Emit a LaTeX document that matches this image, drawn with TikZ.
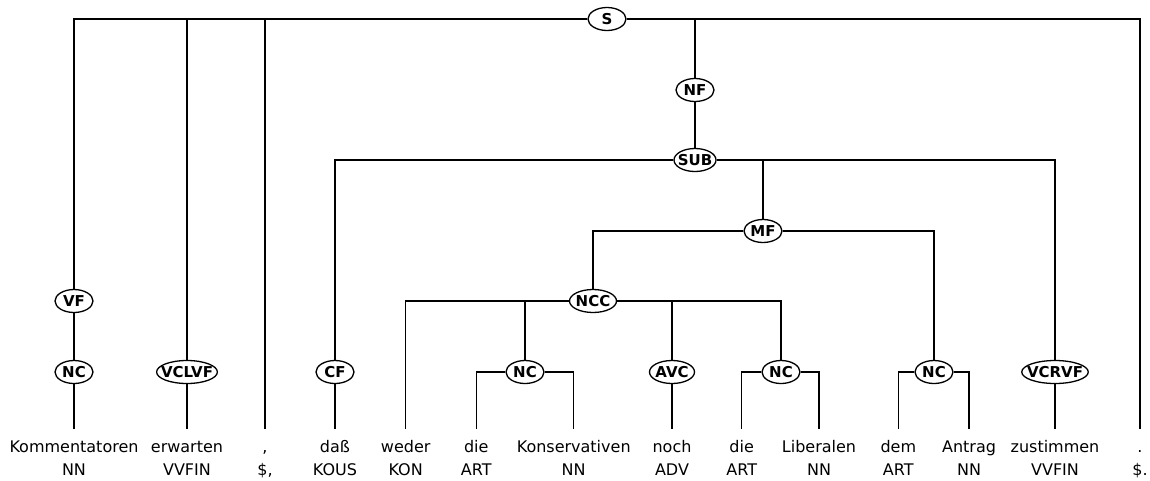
\documentclass[tikz,border=0pt]{standalone}
\usepackage{fontspec}
\setmainfont{DejaVu Sans}
\usetikzlibrary{shapes.geometric}
\begin{document}
\begin{tikzpicture}[x=1pt,y=-1pt, line width=1.3pt,
 cat/.style={ellipse, draw, fill=white, font=\fontsize{15}{15}\selectfont\bfseries, inner xsep=-4.5pt, inner ysep=0pt, minimum width=38pt, minimum height=23pt},
 word/.style={anchor=base, font=\fontsize{16}{16}\selectfont, inner xsep=0pt, inner ysep=10pt, text height=12pt, text depth=3pt},
 tag/.style={anchor=base, font=\fontsize{16}{16}\selectfont, inner sep=0pt}]
\useasboundingbox (0,0) rectangle (1150,480);
% phrase nodes
\node[cat] (S) at (607,19) {S};
\node[cat] (NF) at (695,90) {NF};
\node[cat,minimum width=42pt] (SUB) at (695,160) {SUB};
\node[cat] (MF) at (763,231) {MF};
\node[cat,minimum width=47pt] (NCC) at (593,301) {NCC};
\node[cat] (VF) at (74,301) {VF};
\node[cat] (NC1) at (74,372) {NC};
\node[cat,minimum width=59pt] (VCLVF) at (187,372) {VCLVF};
\node[cat] (CF) at (335,372) {CF};
\node[cat] (NC2) at (525,372) {NC};
\node[cat,minimum width=45pt] (AVC) at (672,372) {AVC};
\node[cat] (NC3) at (781,372) {NC};
\node[cat] (NC4) at (934,372) {NC};
\node[cat,minimum width=60pt] (VCRVF) at (1055,372) {VCRVF};
% words
\node[word] (w1) at (74,452) {Kommentatoren};
\node[word] (w2) at (187,452) {erwarten};
\node[word] (w3) at (265,452) {,};
\node[word] (w4) at (335,452) {daß};
\node[word] (w5) at (405.7,452) {weder};
\node[word] (w6) at (476.3,452) {die};
\node[word] (w7) at (573.7,452) {Konservativen};
\node[word] (w8) at (672,452) {noch};
\node[word] (w9) at (741.7,452) {die};
\node[word] (w10) at (819,452) {Liberalen};
\node[word] (w11) at (898.3,452) {dem};
\node[word] (w12) at (969,452) {Antrag};
\node[word] (w13) at (1055,452) {zustimmen};
\node[word] (w14) at (1140,452) {.};
% tags
\node[tag] (t1) at (74,475) {NN};
\node[tag] (t2) at (187,475) {VVFIN};
\node[tag] (t3) at (265,475) {\$,};
\node[tag] (t4) at (335,475) {KOUS};
\node[tag] (t5) at (405.7,475) {KON};
\node[tag] (t6) at (476.3,475) {ART};
\node[tag] (t7) at (573.7,475) {NN};
\node[tag] (t8) at (672,475) {ADV};
\node[tag] (t9) at (741.7,475) {ART};
\node[tag] (t10) at (819,475) {NN};
\node[tag] (t11) at (898.3,475) {ART};
\node[tag] (t12) at (969,475) {NN};
\node[tag] (t13) at (1055,475) {VVFIN};
\node[tag] (t14) at (1140,475) {\$.};
% edges
\draw (S) -| (VF);
\draw (S) -| (VCLVF);
\draw (S) -| (w3);
\draw (S) -| (NF);
\draw (S) -| (w14);
\draw (VF) -- (NC1);
\draw (NC1) -- (w1);
\draw (VCLVF) -- (w2);
\draw (NF) -- (SUB);
\draw (SUB) -| (CF);
\draw (SUB) -| (MF);
\draw (SUB) -| (VCRVF);
\draw (CF) -- (w4);
\draw (VCRVF) -- (w13);
\draw (MF) -| (NCC);
\draw (MF) -| (NC4);
\draw (NCC) -| (w5);
\draw (NCC) -| (NC2);
\draw (NCC) -| (AVC);
\draw (NCC) -| (NC3);
\draw (NC2) -| (w6);
\draw (NC2) -| (w7);
\draw (AVC) -- (w8);
\draw (NC3) -| (w9);
\draw (NC3) -| (w10);
\draw (NC4) -| (w11);
\draw (NC4) -| (w12);
\end{tikzpicture}
\end{document}
